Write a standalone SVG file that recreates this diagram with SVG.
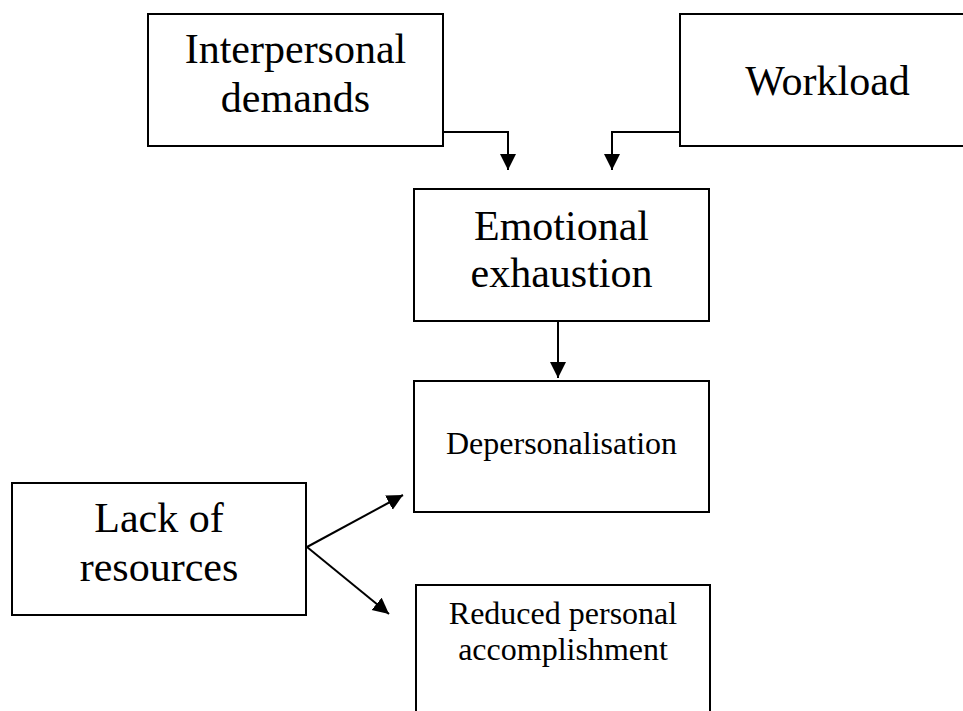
<svg xmlns="http://www.w3.org/2000/svg" width="963" height="711" viewBox="0 0 963 711">
<style>
.box{fill:#fff;stroke:#000;stroke-width:2}
.big{font-family:"Liberation Serif","Times New Roman",serif;font-size:42px;fill:#000;text-anchor:middle}
.small{font-family:"Liberation Serif","Times New Roman",serif;font-size:32px;fill:#000;text-anchor:middle}
.conn{fill:none;stroke:#000;stroke-width:2}
</style>
<defs>
<marker id="ah" markerWidth="18" markerHeight="18" refX="16" refY="8" orient="auto" markerUnits="userSpaceOnUse">
<path d="M0,0 L16,8 L0,16 Z" fill="#000"/>
</marker>
</defs>
<rect width="963" height="711" fill="#fff"/>
<g id="interpersonal">
<rect class="box" x="148" y="14" width="295" height="132"/>
<text class="big" x="295.5" y="63">Interpersonal</text>
<text class="big" x="295.5" y="112">demands</text>
</g>
<g id="workload">
<rect class="box" x="680" y="14" width="295" height="132"/>
<text class="big" x="827.5" y="95">Workload</text>
</g>
<g id="emotional">
<rect class="box" x="414" y="189" width="295" height="132"/>
<text class="big" x="561.5" y="240">Emotional</text>
<text class="big" x="561.5" y="287">exhaustion</text>
</g>
<g id="depersonalisation">
<rect class="box" x="414" y="381" width="295" height="131"/>
<text class="small" x="561.5" y="454">Depersonalisation</text>
</g>
<g id="lack">
<rect class="box" x="12" y="483" width="294" height="132"/>
<text class="big" x="159" y="532">Lack of</text>
<text class="big" x="159" y="581">resources</text>
</g>
<g id="reduced">
<rect class="box" x="416" y="585" width="294" height="140"/>
<text class="small" x="563" y="624">Reduced personal</text>
<text class="small" x="563" y="660">accomplishment</text>
</g>
<g id="connectors">
<path class="conn" d="M443,132 H508 V170" marker-end="url(#ah)"/>
<path class="conn" d="M680,132 H612 V170" marker-end="url(#ah)"/>
<path class="conn" d="M558,321 V378" marker-end="url(#ah)"/>
<path class="conn" d="M307,547 L403,495" marker-end="url(#ah)"/>
<path class="conn" d="M307,547 L389,614" marker-end="url(#ah)"/>
</g>
</svg>
